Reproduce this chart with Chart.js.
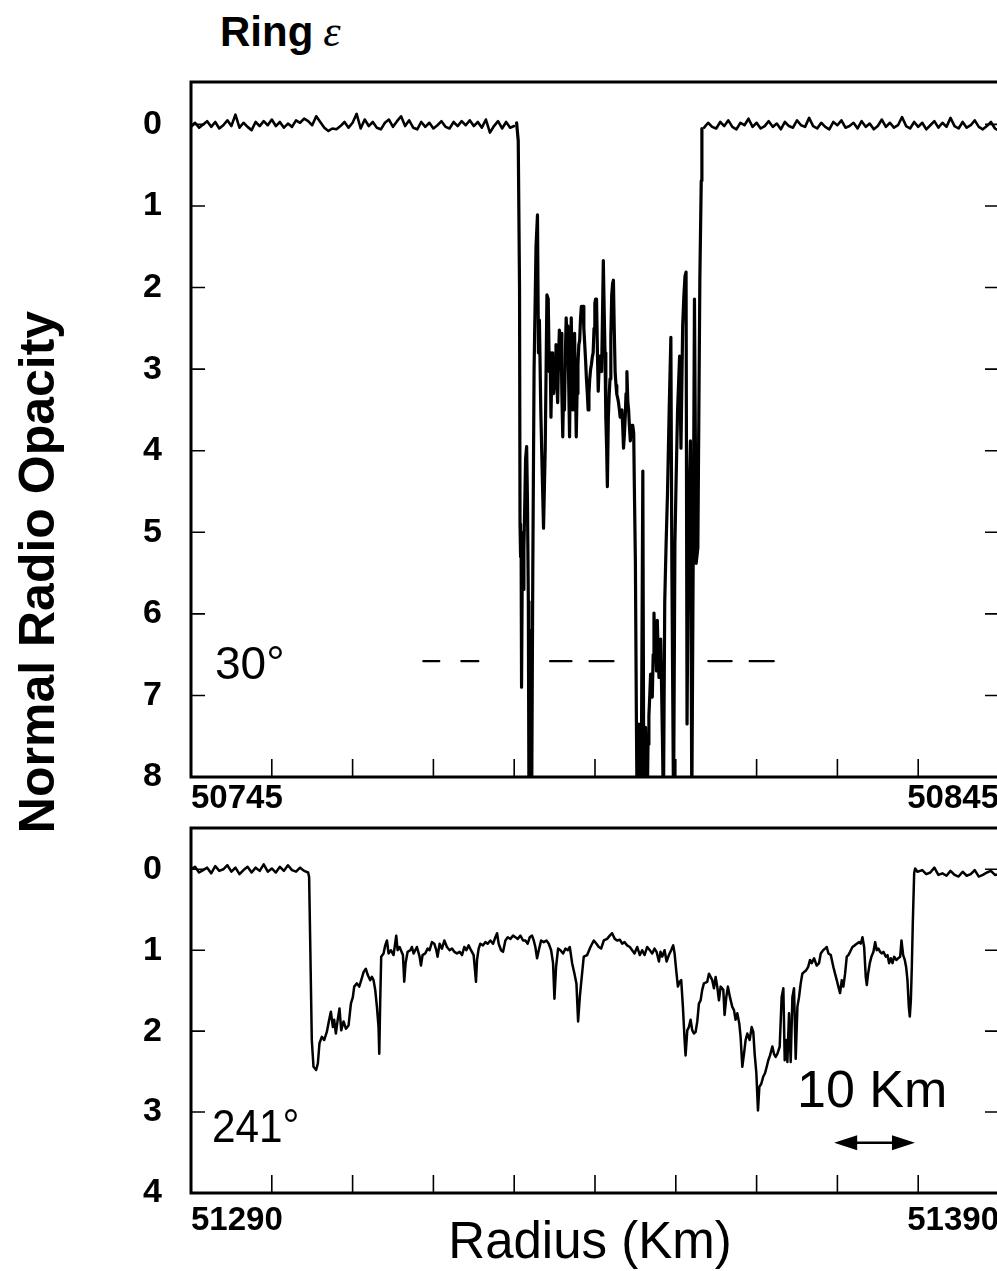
<!DOCTYPE html>
<html>
<head>
<meta charset="utf-8">
<title>Ring epsilon - normal radio opacity</title>
<script src="https://cdn.jsdelivr.net/npm/chart.js@4.4.1/dist/chart.umd.min.js"></script>
<style>
html, body { margin: 0; padding: 0; background: #fff; }
body { position: relative; width: 997px; height: 1271px; overflow: hidden;
       font-family: "Liberation Sans", Arial, Helvetica, sans-serif; color: #000; }
.plot { position: absolute; left: 100px; width: 900px; }
#top-plot { top: 60px; height: 767px; }
#bottom-plot { top: 806px; height: 437px; }
.label { position: absolute; white-space: nowrap; line-height: 1; }
#ring-title { left: 220px; top: 10px; font-size: 42px; font-weight: bold; }
#ring-title .eps { font-family: "Liberation Serif", "DejaVu Serif", serif; font-style: italic;
                   font-weight: normal; font-size: 44px; margin-left: 10px; }
#y-title { left: 37px; top: 572px; font-size: 50px; font-weight: bold;
           transform: translate(-50%, -50%) rotate(-90deg); }
#x-title { left: 590px; top: 1240px; font-size: 51px; transform: translate(-50%, -50%); }
#angle-top { left: 215px; top: 640px; font-size: 46px; }
#angle-bottom { left: 212px; top: 1102px; font-size: 47px; transform-origin: left top; transform: scaleX(0.9); }
#scale-label { left: 797px; top: 1063px; font-size: 52px; }
</style>
</head>
<body>
<div id="top-plot" class="plot"><canvas id="top-chart"></canvas></div>
<div id="bottom-plot" class="plot"><canvas id="bottom-chart"></canvas></div>
<div id="ring-title" class="label">Ring<span class="eps">ε</span></div>
<div id="y-title" class="label">Normal Radio Opacity</div>
<div id="x-title" class="label">Radius (Km)</div>
<div id="angle-top" class="label">30°</div>
<div id="angle-bottom" class="label">241°</div>
<div id="scale-label" class="label">10 Km</div>
<script>
// ---- 30 deg occultation (top panel) ----
var topBeforeRadius = [
    50745, 50745.5, 50746, 50746.5, 50747, 50747.5, 50748, 50748.5, 50749, 50749.5,
    50750, 50750.5, 50751, 50751.5, 50752, 50752.5, 50753, 50753.5, 50754, 50754.5,
    50755, 50755.5, 50756, 50756.5, 50757, 50757.5, 50758, 50758.5, 50759, 50759.5,
    50760, 50760.5, 50761, 50761.5, 50762, 50762.5, 50763, 50763.5, 50764, 50764.5,
    50765, 50765.5, 50766, 50766.5, 50767, 50767.5, 50768, 50768.5, 50769, 50769.5,
    50770, 50770.5, 50771, 50771.5, 50772, 50772.5, 50773, 50773.5, 50774, 50774.5,
    50775, 50775.5, 50776, 50776.5, 50777, 50777.5, 50778, 50778.5, 50779, 50779.5,
    50780, 50780.5, 50781, 50781.5, 50782, 50782.5, 50783, 50783.5, 50784, 50784.5,
    50785
];
var topBeforeOpacity = [
    0.03, -0.02, 0.04, 0.00, -0.04, 0.03, -0.03, 0.05, 0.01, -0.05,
    0.02, -0.12, 0.04, -0.02, 0.03, 0.07, -0.03, 0.02, -0.04, 0.01,
    -0.06, 0.02, -0.03, 0.04, -0.01, 0.03, -0.05, -0.02, -0.07, -0.04,
    0.01, -0.10, -0.03, 0.04, 0.08, 0.05, 0.06, 0.02, -0.03, 0.04,
    -0.02, -0.13, 0.05, -0.06, 0.02, -0.03, 0.04, 0.06, -0.02, -0.06,
    0.03, -0.04, -0.10, 0.02, -0.05, 0.04, 0.06, -0.03, 0.03, -0.02,
    0.05, 0.01, -0.04, 0.03, 0.05, -0.03, 0.02, -0.04, 0.01, -0.05,
    0.02, -0.03, 0.04, -0.06, 0.10, 0.02, -0.04, 0.05, -0.03, 0.04,
    0.02
];
var topRingRadius = [
    50785.3, 50785.5, 50785.66, 50785.72, 50785.79, 50785.85, 50785.91, 50786.0, 50786.1, 50786.2,
    50786.3, 50786.41, 50786.54, 50786.64, 50786.75, 50786.83, 50786.94, 50787.04, 50787.16, 50787.3,
    50787.46, 50787.7, 50787.88, 50788.0, 50788.12, 50788.29, 50788.45, 50788.63, 50788.84, 50789.05,
    50789.21, 50789.34, 50789.45, 50789.55, 50789.66, 50789.76, 50789.87, 50789.97, 50790.07, 50790.17,
    50790.28, 50790.38, 50790.48, 50790.59, 50790.7, 50790.8, 50790.9, 50791.01, 50791.12, 50791.22,
    50791.32, 50791.43, 50791.54, 50791.64, 50791.75, 50791.85, 50791.95, 50792.06, 50792.16, 50792.26,
    50792.37, 50792.47, 50792.58, 50792.68, 50792.78, 50792.89, 50793.0, 50793.1, 50793.2, 50793.31,
    50793.41, 50793.52, 50793.62, 50793.73, 50793.84, 50793.94, 50794.05, 50794.15, 50794.25, 50794.35,
    50794.46, 50794.56, 50794.67, 50794.77, 50794.88, 50794.98, 50795.08, 50795.19, 50795.3, 50795.4,
    50795.5, 50795.61, 50795.72, 50795.82, 50795.92, 50796.03, 50796.14, 50796.24, 50796.34, 50796.44,
    50796.53, 50796.65, 50796.76, 50796.86, 50796.96, 50797.07, 50797.18, 50797.28, 50797.38, 50797.49,
    50797.6, 50797.7, 50797.8, 50797.91, 50798.02, 50798.12, 50798.22, 50798.33, 50798.43, 50798.53,
    50798.64, 50798.74, 50798.84, 50798.95, 50799.06, 50799.16, 50799.26, 50799.37, 50799.47, 50799.58,
    50799.68, 50799.79, 50799.87, 50800.0, 50800.12, 50800.21, 50800.32, 50800.42, 50800.55, 50800.71,
    50800.92, 50801.04, 50801.15, 50801.25, 50801.36, 50801.46, 50801.56, 50801.67, 50801.78, 50801.88,
    50801.98, 50802.09, 50802.2, 50802.3, 50802.4, 50802.51, 50802.61, 50802.71, 50802.82, 50802.92,
    50803.02, 50803.13, 50803.24, 50803.34, 50803.47, 50803.63, 50803.8, 50803.97, 50804.18, 50804.39,
    50804.51, 50804.72, 50804.89, 50805.05, 50805.22, 50805.47, 50805.64, 50805.85, 50806.0, 50806.14,
    50806.27, 50806.39, 50806.56, 50806.81, 50806.98, 50807.15, 50807.31, 50807.52, 50807.73, 50807.98,
    50808.15, 50808.23
];
var topRingOpacity = [
    -0.02, 0.2, 2.0, 4.9, 5.3, 5.0, 6.9, 5.4, 5.7, 5.2,
    4.7, 4.1, 3.95, 4.6, 5.85, 8.4, 6.2, 8.4, 8.4, 5.5,
    3.0, 1.5, 1.11, 2.8, 2.4, 3.5, 4.2, 4.95, 3.97, 2.09,
    2.14, 3.03, 2.8, 3.59, 3.0, 2.8, 3.3, 3.12, 2.9, 2.7,
    3.2, 3.41, 2.9, 2.52, 3.0, 2.56, 3.3, 3.83, 3.2, 3.5,
    2.9, 2.37, 2.6, 2.47, 3.2, 3.83, 3.0, 2.37, 2.9, 3.5,
    3.0, 2.56, 3.2, 3.83, 3.3, 2.94, 2.7, 2.65, 2.4, 2.23,
    2.3, 2.23, 2.5, 2.7, 2.9, 3.12, 3.3, 3.5, 3.3, 3.12,
    3.0, 2.94, 2.85, 2.8, 2.5, 2.19, 2.14, 2.14, 2.8, 3.27,
    3.0, 2.84, 3.0, 3.03, 2.4, 1.67, 2.3, 2.8, 3.6, 3.97,
    4.44, 3.59, 3.3, 3.12, 2.6, 2.09, 1.95, 1.91, 2.5, 3.03,
    3.2, 3.31, 3.35, 3.41, 3.5, 3.59, 3.55, 3.5, 3.7, 3.97,
    3.8, 3.59, 3.3, 3.03, 3.4, 3.5, 3.7, 3.88, 3.75, 3.69,
    3.7, 3.78, 4.44, 5.38, 7.25, 8.4, 7.8, 7.35, 8.0, 8.4,
    4.25, 8.4, 8.0, 7.39, 7.8, 8.4, 7.6, 7.25, 7.0, 6.74,
    7.0, 7.02, 6.5, 5.99, 6.4, 6.31, 6.7, 6.08, 6.5, 6.78,
    6.5, 6.31, 6.9, 7.49, 8.4, 5.85, 5.14, 4.53, 3.5, 2.61,
    5.38, 8.4, 5.14, 4.3, 3.5, 2.84, 3.97, 2.47, 2.1, 1.86,
    1.81, 7.35, 4.91, 3.88, 8.4, 5.38, 2.14, 5.38, 5.19, 1.86,
    0.69, 0.05
];
var topAfterRadius = [
    50808.5, 50809, 50809.5, 50810, 50810.5, 50811, 50811.5, 50812, 50812.5, 50813,
    50813.5, 50814, 50814.5, 50815, 50815.5, 50816, 50816.5, 50817, 50817.5, 50818,
    50818.5, 50819, 50819.5, 50820, 50820.5, 50821, 50821.5, 50822, 50822.5, 50823,
    50823.5, 50824, 50824.5, 50825, 50825.5, 50826, 50826.5, 50827, 50827.5, 50828,
    50828.5, 50829, 50829.5, 50830, 50830.5, 50831, 50831.5, 50832, 50832.5, 50833,
    50833.5, 50834, 50834.5, 50835, 50835.5, 50836, 50836.5, 50837, 50837.5, 50838,
    50838.5, 50839, 50839.5, 50840, 50840.5, 50841, 50841.5, 50842, 50842.5, 50843,
    50843.5, 50844, 50844.5, 50845
];
var topAfterOpacity = [
    0.04, -0.02, 0.03, 0.05, -0.03, 0.02, -0.05, 0.03, 0.06, -0.02,
    0.01, -0.07, 0.03, -0.02, 0.05, 0.02, -0.04, 0.03, -0.01, 0.06,
    -0.03, 0.02, 0.04, -0.05, 0.01, 0.03, -0.08, 0.02, 0.05, -0.02,
    0.03, 0.06, -0.03, 0.01, -0.05, 0.04, 0.02, -0.02, 0.05, -0.04,
    0.03, -0.01, 0.06, 0.02, -0.06, 0.03, -0.02, 0.04, 0.01, -0.09,
    0.02, 0.05, -0.03, 0.03, -0.02, 0.06, 0.01, -0.04, 0.04, -0.02,
    0.03, -0.08, 0.02, 0.05, -0.03, 0.04, 0.01, -0.05, 0.03, 0.06,
    0.02, -0.03, 0.05, 0.08
];
var topDashFrom = [50773.75, 50778.46, 50789.44, 50794.32, 50809.03, 50814.14];
var topDashTo = [50775.73, 50780.56, 50792.09, 50797.29, 50811.91, 50817.12];
var topDashLevel = 6.58;

// ---- 241 deg occultation (bottom panel) ----
var bottomBeforeRadius = [
    51290, 51290.5, 51291, 51291.5, 51292, 51292.5, 51293, 51293.5, 51294, 51294.5,
    51295, 51295.5, 51296, 51296.5, 51297, 51297.5, 51298, 51298.5, 51299, 51299.5,
    51300, 51300.5, 51301, 51301.5, 51302, 51302.5, 51303, 51303.5, 51304, 51304.5
];
var bottomBeforeOpacity = [
    0.00, -0.03, 0.04, 0.01, -0.02, 0.05, -0.04, 0.02, 0.00, -0.05,
    0.03, -0.02, 0.06, 0.01, -0.03, 0.04, -0.02, 0.02, -0.06, 0.03,
    -0.01, 0.04, -0.03, 0.02, -0.05, 0.01, 0.03, -0.02, 0.02, 0.04
];
var bottomRingRadius = [
    51304.62, 51304.75, 51304.95, 51305.16, 51305.49, 51305.7, 51305.9, 51306.19, 51306.48, 51306.81,
    51307.1, 51307.31, 51307.56, 51307.72, 51307.93, 51308.13, 51308.38, 51308.59, 51308.88, 51309.17,
    51309.5, 51309.79, 51310.03, 51310.2, 51310.53, 51310.82, 51311.07, 51311.36, 51311.64, 51311.89,
    51312.18, 51312.39, 51312.59, 51312.8, 51313.01, 51313.21, 51313.3, 51313.42, 51313.54, 51313.83,
    51314.04, 51314.25, 51314.45, 51314.74, 51315.07, 51315.4, 51315.57, 51315.82, 51315.98, 51316.23,
    51316.39, 51316.56, 51316.81, 51317.14, 51317.34, 51317.55, 51317.96, 51318.29, 51318.46, 51318.66,
    51318.99, 51319.28, 51319.53, 51319.82, 51320.11, 51320.36, 51320.52, 51320.77, 51321.06, 51321.35,
    51321.68, 51322.01, 51322.3, 51322.59, 51322.92, 51323.25, 51323.54, 51323.83, 51324.08, 51324.36,
    51324.65, 51324.98, 51325.15, 51325.27, 51325.4, 51325.6, 51325.81, 51326.14, 51326.43, 51326.72,
    51327.05, 51327.38, 51327.67, 51327.88, 51328.08, 51328.37, 51328.62, 51328.91, 51329.2, 51329.53,
    51329.86, 51330.15, 51330.44, 51330.77, 51331.1, 51331.39, 51331.67, 51331.92, 51332.21, 51332.42,
    51332.62, 51332.83, 51333.04, 51333.33, 51333.66, 51333.99, 51334.28, 51334.57, 51334.81, 51334.98,
    51335.18, 51335.43, 51335.72, 51336.05, 51336.34, 51336.63, 51336.88, 51337.17, 51337.46, 51337.7,
    51337.91, 51338.12, 51338.32, 51338.61, 51339.03, 51339.44, 51339.85, 51340.18, 51340.47, 51340.76,
    51341.09, 51341.5, 51341.83, 51342.12, 51342.45, 51342.74, 51343.07, 51343.36, 51343.65, 51343.98,
    51344.31, 51344.6, 51344.89, 51345.22, 51345.55, 51345.84, 51346.13, 51346.46, 51346.79, 51347.08,
    51347.37, 51347.62, 51347.91, 51348.11, 51348.32, 51348.61, 51348.86, 51349.14, 51349.43, 51349.68,
    51349.85, 51350.05, 51350.26, 51350.47, 51350.67, 51350.88, 51351.09, 51351.21, 51351.42, 51351.62,
    51351.83, 51352.04, 51352.24, 51352.45, 51352.66, 51352.86, 51353.07, 51353.27, 51353.48, 51353.89,
    51354.1, 51354.31, 51354.51, 51354.72, 51354.93, 51355.13, 51355.34, 51355.55, 51355.88, 51356.04,
    51356.25, 51356.45, 51356.7, 51356.99, 51357.2, 51357.4, 51357.61, 51357.86, 51358.02, 51358.23,
    51358.44, 51358.64, 51358.85, 51359.14, 51359.39, 51359.59, 51359.76, 51359.97, 51360.17, 51360.34,
    51360.58, 51360.83, 51361.04, 51361.25, 51361.45, 51361.66, 51361.95, 51362.15, 51362.36, 51362.57,
    51362.86, 51363.1, 51363.31, 51363.48, 51363.68, 51363.81, 51364.01, 51364.22, 51364.43, 51364.63,
    51364.84, 51365.05, 51365.25, 51365.46, 51365.66, 51365.87, 51366.12, 51366.37, 51366.61, 51366.82,
    51367.11, 51367.44, 51367.73, 51367.94, 51368.23, 51368.47, 51368.68, 51368.89, 51369.18, 51369.51,
    51369.71, 51369.92, 51370.12, 51370.33, 51370.54, 51370.74, 51370.95, 51371.16, 51371.36, 51371.57,
    51371.86, 51372.15, 51372.4, 51372.69, 51372.89, 51373.1, 51373.31, 51373.51, 51373.64, 51373.8,
    51374.01, 51374.21, 51374.46, 51374.67, 51374.87, 51375.08, 51375.29, 51375.49, 51375.7, 51375.99,
    51376.2, 51376.4, 51376.61, 51376.82, 51377.02, 51377.31, 51377.52, 51377.77, 51377.93, 51378.14,
    51378.34, 51378.51, 51378.67, 51378.84, 51378.96, 51379.09, 51379.21, 51379.33, 51379.5, 51379.62,
    51379.91
];
var bottomRingOpacity = [
    0.10, 0.88, 2.11, 2.44, 2.48, 2.40, 2.15, 2.07, 2.11, 2.01,
    1.86, 1.76, 1.95, 1.86, 2.03, 1.88, 1.72, 1.99, 1.88, 1.97,
    1.93, 1.66, 1.58, 1.45, 1.41, 1.45, 1.37, 1.27, 1.23, 1.31,
    1.37, 1.33, 1.37, 1.49, 1.70, 1.95, 2.28, 1.62, 1.08, 1.04,
    0.94, 0.88, 1.04, 1.00, 1.06, 0.82, 1.00, 0.96, 1.00, 1.06,
    1.39, 1.16, 1.02, 1.00, 0.96, 1.04, 0.96, 1.08, 1.19, 1.06,
    1.04, 0.98, 1.00, 0.90, 0.92, 1.00, 1.08, 0.92, 0.98, 0.88,
    0.96, 1.00, 0.98, 1.02, 1.04, 1.02, 1.06, 0.96, 1.00, 0.94,
    1.00, 1.06, 1.25, 1.39, 1.12, 0.98, 0.92, 0.94, 0.90, 0.92,
    0.88, 0.92, 0.84, 0.79, 0.92, 1.00, 1.02, 0.88, 0.84, 0.86,
    0.82, 0.84, 0.86, 0.82, 0.88, 0.88, 0.92, 0.84, 0.82, 0.88,
    0.96, 1.10, 1.00, 0.88, 0.90, 0.88, 0.92, 1.00, 1.16, 1.60,
    1.21, 0.98, 1.00, 1.04, 0.98, 1.00, 0.96, 1.16, 1.29, 1.41,
    1.88, 1.58, 1.37, 1.08, 1.06, 0.96, 0.88, 0.92, 0.96, 0.98,
    0.88, 0.86, 0.82, 0.79, 0.86, 0.88, 0.87, 0.92, 0.90, 0.94,
    0.96, 1.00, 1.04, 0.96, 1.06, 1.00, 1.06, 0.96, 1.00, 1.04,
    0.98, 1.02, 1.14, 1.02, 1.08, 1.00, 1.14, 1.06, 1.00, 0.94,
    1.04, 1.25, 1.45, 1.39, 1.37, 1.70, 2.11, 2.30, 1.99, 1.95,
    1.86, 1.99, 2.03, 2.01, 1.88, 1.66, 1.62, 1.49, 1.41, 1.39,
    1.29, 1.33, 1.37, 1.47, 1.33, 1.45, 1.62, 1.45, 1.49, 1.80,
    1.58, 1.45, 1.58, 1.70, 1.74, 1.86, 1.78, 1.91, 2.07, 2.44,
    2.28, 2.11, 2.03, 2.11, 1.95, 2.01, 2.28, 2.52, 2.98, 2.69,
    2.65, 2.56, 2.52, 2.44, 2.36, 2.30, 2.19, 2.28, 2.32, 2.28,
    2.19, 1.58, 1.47, 2.36, 2.11, 2.38, 1.78, 2.38, 1.58, 1.47,
    2.34, 1.70, 1.58, 1.41, 1.29, 1.27, 1.25, 1.21, 1.12, 1.16,
    1.10, 1.19, 1.16, 1.04, 1.00, 0.98, 0.96, 1.04, 1.06, 1.21,
    1.29, 1.37, 1.45, 1.53, 1.37, 1.45, 1.29, 1.08, 1.06, 1.02,
    0.96, 0.94, 0.92, 0.90, 0.92, 0.84, 0.96, 1.33, 1.43, 1.29,
    1.16, 1.08, 1.02, 0.90, 1.00, 0.98, 1.02, 1.04, 1.02, 1.08,
    1.06, 1.16, 1.10, 1.16, 1.08, 1.12, 1.10, 1.08, 0.88, 1.06,
    1.12, 1.21, 1.37, 1.70, 1.82, 1.62, 1.21, 0.67, 0.05, -0.01,
    0.03
];
var bottomAfterRadius = [
    51380.5, 51381, 51381.5, 51382, 51382.5, 51383, 51383.5, 51384, 51384.5, 51385,
    51385.5, 51386, 51386.5, 51387, 51387.5, 51388, 51388.5, 51389, 51389.5, 51390
];
var bottomAfterOpacity = [
    0.01, 0.06, 0.04, -0.02, 0.07, 0.05, 0.08, 0.02, 0.07, 0.09,
    0.03, 0.08, 0.06, 0.01, 0.09, 0.07, 0.04, 0.02, 0.07, 0.06
];
var scaleBarKm = [51369.6, 51379.6];
var scaleBarLevel = 3.38;

// ---- axes ----
var topXTicks = [50745, 50755, 50765, 50775, 50785, 50795, 50805, 50815, 50825, 50835, 50845];
var topXLabelled = [50745, 50845];
var topYTicks = [0, 1, 2, 3, 4, 5, 6, 7, 8];
var topYRange = [-0.52, 8];
var bottomXTicks = [51290, 51300, 51310, 51320, 51330, 51340, 51350, 51360, 51370, 51380, 51390];
var bottomXLabelled = [51290, 51390];
var bottomYTicks = [0, 1, 2, 3, 4];
var bottomYRange = [-0.51, 4];

(function () {
    "use strict";

    var INK = "#000";
    var FONT = '"Liberation Sans", Arial, Helvetica, sans-serif';

    function points(xs, ys) {
        return xs.map(function (x, i) {
            return { x: x, y: ys[i] };
        });
    }

    function dashPoints() {
        var out = [];
        for (var i = 0; i < topDashFrom.length; i++) {
            out.push({ x: topDashFrom[i], y: topDashLevel });
            out.push({ x: topDashTo[i], y: topDashLevel });
            out.push({ x: topDashTo[i], y: null });
        }
        return out;
    }

    // box round the plot area, with tick marks pointing inwards
    var frameTicks = {
        id: "frameTicks",
        afterDraw: function (chart) {
            var ctx = chart.ctx;
            var area = chart.chartArea;
            var xs = chart.scales.x;
            var ys = chart.scales.y;
            ctx.save();
            ctx.strokeStyle = INK;
            ctx.lineWidth = 1.6;
            ctx.beginPath();
            xs.ticks.forEach(function (t) {
                if (t.value <= xs.min || t.value >= xs.max) {
                    return;
                }
                var px = xs.getPixelForValue(t.value);
                ctx.moveTo(px, area.bottom);
                ctx.lineTo(px, area.bottom - 18);
            });
            ys.ticks.forEach(function (t) {
                if (t.value <= ys.min || t.value >= ys.max) {
                    return;
                }
                var py = ys.getPixelForValue(t.value);
                ctx.moveTo(area.left, py);
                ctx.lineTo(area.left + 14, py);
                ctx.moveTo(area.right, py);
                ctx.lineTo(area.right - 14, py);
            });
            ctx.stroke();
            ctx.lineWidth = 3;
            ctx.strokeRect(area.left, area.top, area.right - area.left, area.bottom - area.top);
            ctx.restore();
        }
    };

    // double headed arrow giving the 10 km scale
    var scaleBar = {
        id: "scaleBar",
        afterDatasetsDraw: function (chart, args, opts) {
            if (!opts || opts.from === undefined) {
                return;
            }
            var ctx = chart.ctx;
            var x0 = chart.scales.x.getPixelForValue(opts.from);
            var x1 = chart.scales.x.getPixelForValue(opts.to);
            var y = chart.scales.y.getPixelForValue(opts.level);
            var head = 23;
            var half = 7.5;
            ctx.save();
            ctx.strokeStyle = INK;
            ctx.fillStyle = INK;
            ctx.lineWidth = 2.5;
            ctx.beginPath();
            ctx.moveTo(x0 + head - 2, y);
            ctx.lineTo(x1 - head + 2, y);
            ctx.stroke();
            ctx.beginPath();
            ctx.moveTo(x0, y);
            ctx.lineTo(x0 + head, y - half);
            ctx.lineTo(x0 + head, y + half);
            ctx.closePath();
            ctx.moveTo(x1, y);
            ctx.lineTo(x1 - head, y - half);
            ctx.lineTo(x1 - head, y + half);
            ctx.closePath();
            ctx.fill();
            ctx.restore();
        }
    };

    function xScale(ticks, labelled, pad) {
        return {
            type: "linear",
            min: ticks[0],
            max: ticks[ticks.length - 1],
            grid: { display: false, drawTicks: false },
            border: { display: false },
            afterBuildTicks: function (scale) {
                scale.ticks = ticks.map(function (v) { return { value: v }; });
            },
            afterFit: function (scale) {
                scale.height = 50;
                scale.paddingLeft = 0;
                scale.paddingRight = 0;
            },
            ticks: {
                autoSkip: false,
                maxRotation: 0,
                align: "inner",
                padding: pad,
                color: INK,
                font: { family: FONT, size: 33, weight: "bold" },
                callback: function (value) {
                    return labelled.indexOf(value) >= 0 ? String(value) : "";
                }
            }
        };
    }

    function yScale(ticks, range) {
        return {
            type: "linear",
            reverse: true,
            min: range[0],
            max: range[1],
            grid: { display: false, drawTicks: false },
            border: { display: false },
            afterBuildTicks: function (scale) {
                scale.ticks = ticks.map(function (v) { return { value: v }; });
            },
            afterFit: function (scale) {
                scale.width = 91;
                scale.paddingTop = 0;
                scale.paddingBottom = 0;
            },
            ticks: {
                autoSkip: false,
                padding: 29,
                color: INK,
                font: { family: FONT, size: 34, weight: "bold" },
                callback: function (value) { return String(value); }
            }
        };
    }

    function buildChart(canvasId, datasets, scales, barOpts) {
        return new Chart(document.getElementById(canvasId), {
            type: "line",
            data: { datasets: datasets },
            options: {
                responsive: true,
                maintainAspectRatio: false,
                animation: false,
                devicePixelRatio: 1,
                events: [],
                layout: { padding: { top: 22, right: 1, bottom: 0, left: 0 } },
                elements: {
                    point: { radius: 0 },
                    line: { tension: 0, borderJoinStyle: "round", borderCapStyle: "round" }
                },
                plugins: {
                    legend: { display: false },
                    tooltip: { enabled: false },
                    scaleBar: barOpts
                },
                scales: scales
            },
            plugins: [frameTicks, scaleBar]
        });
    }

    Chart.defaults.font.family = FONT;
    Chart.defaults.color = INK;

    buildChart("top-chart", [
        {
            data: points(topBeforeRadius, topBeforeOpacity),
            borderColor: INK,
            borderWidth: 2.6,
            fill: false
        },
        {
            data: points(topRingRadius, topRingOpacity),
            borderColor: INK,
            borderWidth: 3.2,
            fill: false
        },
        {
            data: points(topAfterRadius, topAfterOpacity),
            borderColor: INK,
            borderWidth: 2.6,
            fill: false
        },
        {
            data: dashPoints(),
            borderColor: INK,
            borderWidth: 2.2,
            spanGaps: false,
            fill: false
        }
    ], {
        x: xScale(topXTicks, topXLabelled, 2),
        y: yScale(topYTicks, topYRange)
    }, false);

    buildChart("bottom-chart", [
        {
            data: points(bottomBeforeRadius.concat(bottomRingRadius, bottomAfterRadius),
                bottomBeforeOpacity.concat(bottomRingOpacity, bottomAfterOpacity)),
            borderColor: INK,
            borderWidth: 2.5,
            fill: false
        }
    ], {
        x: xScale(bottomXTicks, bottomXLabelled, 8),
        y: yScale(bottomYTicks, bottomYRange)
    }, { from: scaleBarKm[0], to: scaleBarKm[1], level: scaleBarLevel });
}());
</script>
</body>
</html>
